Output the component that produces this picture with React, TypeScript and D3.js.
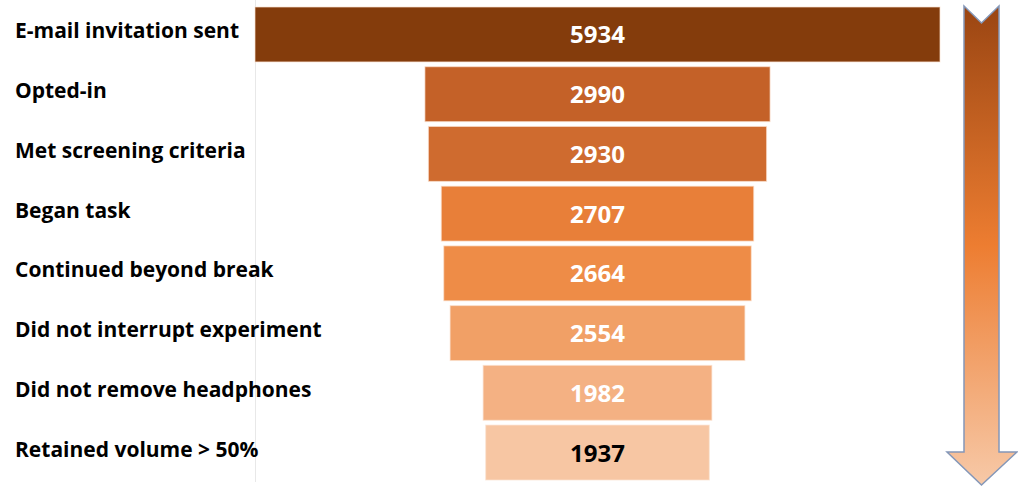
import React from "react";
import * as d3 from "d3";

const stages: string[] = [
  "E-mail invitation sent",
  "Opted-in",
  "Met screening criteria",
  "Began task",
  "Continued beyond break",
  "Did not interrupt experiment",
  "Did not remove headphones",
  "Retained volume > 50%",
];
const counts: number[] = [5934, 2990, 2930, 2707, 2664, 2554, 1982, 1937];
const barColors: string[] = [
  "#843C0C",
  "#C46128",
  "#CF6B2F",
  "#E87F39",
  "#EE8C47",
  "#F1A066",
  "#F4B183",
  "#F7C6A3",
];
const valueColors: string[] = ["#fff", "#fff", "#fff", "#fff", "#fff", "#fff", "#fff", "#000"];

const W = 1018;
const H = 489;
const CX = 597.5;
const FONT = "'Open Sans', Lato, sans-serif";

export default function App() {
  const y = d3.scaleBand<string>().domain(stages).range([7, 480]).paddingInner(0.08).paddingOuter(0);
  const w = d3.scaleLinear().domain([0, d3.max(counts) as number]).range([0, 685]);

  // arrow geometry
  const aL = 964, aR = 999, aTop = 6, notch = 23, shaftEnd = 452, hL = 947, hR = 1017, tip = 485;
  const aC = (aL + aR) / 2;
  const arrowPath = d3.path();
  arrowPath.moveTo(aL, aTop);
  arrowPath.lineTo(aC, notch);
  arrowPath.lineTo(aR, aTop);
  arrowPath.lineTo(aR, shaftEnd);
  arrowPath.lineTo(hR, shaftEnd);
  arrowPath.lineTo(aC, tip);
  arrowPath.lineTo(hL, shaftEnd);
  arrowPath.lineTo(aL, shaftEnd);
  arrowPath.closePath();

  return (
    <svg
      width={W}
      height={H}
      viewBox={`0 0 ${W} ${H}`}
      style={{ position: "absolute", left: 0, top: 0, background: "#fff" }}
    >
      <defs>
        <linearGradient id="arrowGrad" x1="0" y1="0" x2="0" y2="1">
          <stop offset="0" stopColor="#9A4512" />
          <stop offset="0.5" stopColor="#ED7D31" />
          <stop offset="1" stopColor="#F7C9A8" />
        </linearGradient>
      </defs>
      <line x1={255.5} x2={255.5} y1={0} y2={482} stroke="#e8e8e8" strokeWidth={1} />
      {stages.map((s, i) => {
        const bw = w(counts[i]);
        const by = y(s) as number;
        const bh = y.bandwidth();
        return (
          <g key={s}>
            <rect
              x={CX - bw / 2}
              y={by}
              width={bw}
              height={bh}
              fill={barColors[i]}
              stroke="#fbe3d2"
              strokeOpacity={0.7}
              strokeWidth={1}
            />
            <text
              x={CX}
              y={by + bh / 2 + 9}
              textAnchor="middle"
              fontFamily={FONT}
              fontWeight={700}
              fontSize={24}
              fill={valueColors[i]}
            >
              {counts[i]}
            </text>
            <text
              x={15}
              y={by + bh / 2 + 4}
              fontFamily={FONT}
              fontWeight={700}
              fontSize={21}
              fill="#000"
            >
              {s}
            </text>
          </g>
        );
      })}
      <path d={arrowPath.toString()} fill="url(#arrowGrad)" stroke="#8497B8" strokeWidth={1.5} strokeLinejoin="miter" />
    </svg>
  );
}
